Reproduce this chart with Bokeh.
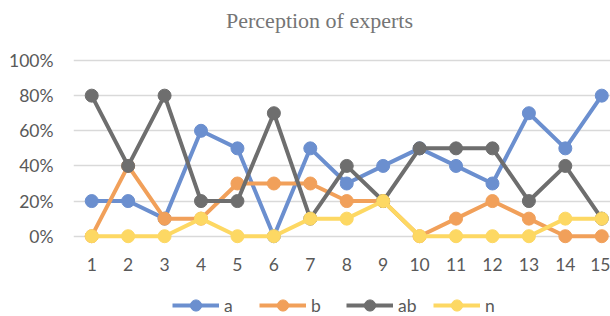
from bokeh.plotting import figure
from bokeh.models import Range1d, FixedTicker, Legend, LegendItem, Label
from bokeh.embed import file_html
from bokeh.resources import INLINE

experts = list(range(1, 16))
a = [20, 20, 10, 60, 50, 0, 50, 30, 40, 50, 40, 30, 70, 50, 80]
b = [0, 40, 10, 10, 30, 30, 30, 20, 20, 0, 10, 20, 10, 0, 0]
ab = [80, 40, 80, 20, 20, 70, 10, 40, 20, 50, 50, 50, 20, 40, 10]
n = [0, 0, 0, 10, 0, 0, 10, 10, 20, 0, 0, 0, 0, 10, 10]
series_names = ["a", "b", "ab", "n"]
colors = ["#6B8FCF", "#F1A05A", "#6E6E6E", "#FDD863"]
y_ticks = [0, 20, 40, 60, 80, 100]
y_tick_labels = ["0%", "20%", "40%", "60%", "80%", "100%"]
chart_title = "Perception of experts"

p = figure(width=610, height=316, output_backend="svg", toolbar_location=None,
           x_range=Range1d(0.5, 15.24), y_range=Range1d(-45.7, 134.15),
           min_border_left=73, min_border_right=0, min_border_top=0, min_border_bottom=0)
p.outline_line_color = None
p.background_fill_color = "white"
p.title.visible = False

p.add_layout(Label(x=246, y=296, x_units="screen", y_units="screen", text=chart_title,
                   text_font="Liberation Serif", text_font_size="22px", text_color="#757575",
                   text_align="center", text_baseline="middle"))

items = []
for name, vals, c in zip(series_names, [a, b, ab, n], colors):
    r1 = p.line(experts, vals, line_color=c, line_width=4)
    r2 = p.scatter(experts, vals, size=13, fill_color=c, line_color=c)
    items.append(LegendItem(label=name, renderers=[r1, r2]))

for ax in (p.xaxis[0], p.yaxis[0]):
    ax.axis_line_color = None
    ax.major_tick_line_color = None
    ax.minor_tick_line_color = None
    ax.major_tick_out = 0
    ax.major_tick_in = 0
    ax.major_label_text_color = "#595959"
    ax.major_label_text_font = "Lato"
    ax.major_label_text_font_size = "17.5px"

p.xaxis.ticker = FixedTicker(ticks=experts)
p.xaxis.fixed_location = 0
p.xaxis.major_label_standoff = 22
p.yaxis.ticker = FixedTicker(ticks=y_ticks)
p.yaxis.major_label_overrides = {t: l for t, l in zip(y_ticks, y_tick_labels)}
p.yaxis.major_label_standoff = 20

p.xgrid.grid_line_color = None
p.ygrid.grid_line_color = "#D9D9D9"
p.ygrid.grid_line_width = 1.5

legend = Legend(items=items, orientation="horizontal", location=(99, -3),
                glyph_width=47, glyph_height=28, label_standoff=5, spacing=15,
                label_text_font="Lato", label_text_font_size="17.5px",
                label_text_color="#595959", border_line_color=None,
                padding=0, margin=0, background_fill_alpha=0)
p.add_layout(legend, "center")

open("out.html", "w").write(file_html(p, INLINE))
